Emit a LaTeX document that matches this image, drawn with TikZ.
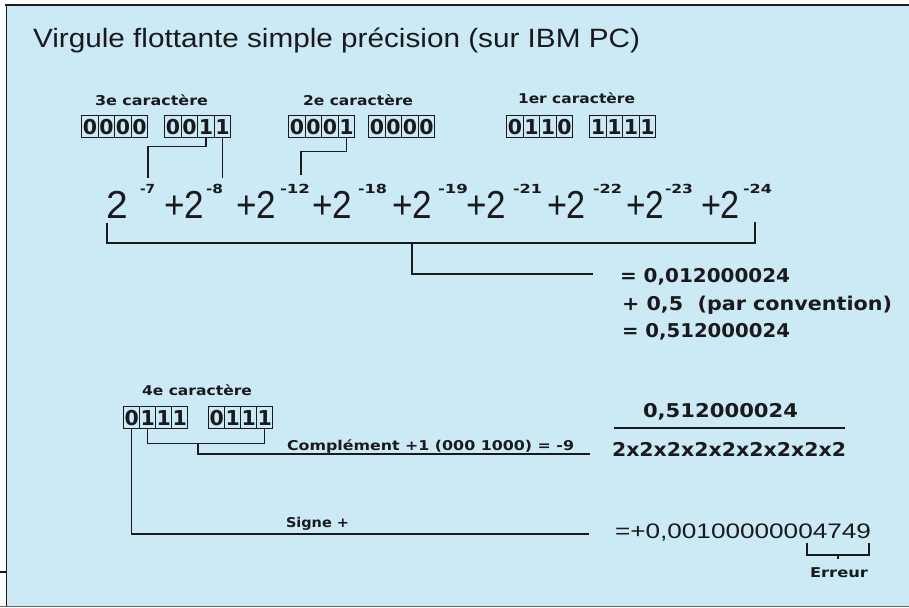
\documentclass[tikz,border=0pt]{standalone}
\usepackage{graphicx}
\usepackage{fontspec}
\setmainfont{Liberation Sans}
\newfontfamily\lblfont{DejaVu Sans}
\definecolor{bgblue}{RGB}{203,234,245}
\definecolor{linec}{RGB}{25,25,30}
\newcommand\fitw[2]{\resizebox{#1}{\height}{#2}}
\newcommand\bitgroup[5]{%
  \foreach \d [count=\i] in {#5} {
    \node[bitcell, minimum width=#4] (#1\i) at ({#2+(\i-1)*#4},#3) {\d};
  }}
\tikzset{
  txt/.style={inner sep=0pt, outer sep=0pt, anchor=base west, text=linec},
  lbl/.style={txt, font=\lblfont\bfseries\fontsize{13.5}{16}\selectfont},
  res/.style={txt, font=\lblfont\bfseries\fontsize{19}{22}\selectfont},
  expo/.style={txt, font=\lblfont\bfseries\fontsize{12.5}{15}\selectfont},
  pow/.style={txt, font=\fontsize{39}{44}\selectfont},
  bitcell/.style={draw=linec, line width=1.3pt, minimum height=22pt, inner sep=0pt,
    text=linec, font=\lblfont\bfseries\fontsize{20.5}{22}\selectfont, anchor=north west},
  wire/.style={draw=linec, line width=1.3pt},
}
\begin{document}
\begin{tikzpicture}[x=1pt,y=-1pt]
\useasboundingbox (0,0) rectangle (909,607);
% frame
\fill[white] (0,0) rectangle (909,607);
\fill[bgblue] (7,6) rectangle (909,606);
\draw[linec, line width=2pt] (5,5.5) -- (909,5.5);
\draw[linec, line width=1.4pt] (6.5,5) -- (6.5,607);
\draw[linec, line width=1.2pt] (0,572) -- (7,572);
\draw[black!60, line width=1.2pt] (0,606.4) -- (909,606.4);
% title
\node[txt, font=\fontsize{26.5}{30}\selectfont] (title) at (33,48)
  {\fitw{607pt}{Virgule flottante simple précision (sur IBM PC)}};
% labels
\node[lbl] (l3) at (95,106) {\fitw{113pt}{3e caractère}};
\node[lbl] (l2) at (303,106) {\fitw{110pt}{2e caractère}};
\node[lbl] (l1) at (518,104) {\fitw{117pt}{1er caractère}};
% bit groups row 1
\bitgroup{A}{81}{115}{16.5}{0,0,0,0}
\bitgroup{B}{164}{115}{16.5}{0,0,1,1}
\bitgroup{C}{288}{115}{16.5}{0,0,0,1}
\bitgroup{D}{368}{115}{16.5}{0,0,0,0}
\bitgroup{E}{506}{115}{16.5}{0,1,1,0}
\bitgroup{F}{589}{115}{16.5}{1,1,1,1}
% powers
\node[pow] (p1) at (106,218) {2};
\node[pow] (p2) at (164,218) {\fitw{40pt}{+2}};
\node[pow] (p3) at (236,218) {\fitw{40pt}{+2}};
\node[pow] (p4) at (312,218) {\fitw{40pt}{+2}};
\node[pow] (p5) at (392,218) {\fitw{40pt}{+2}};
\node[pow] (p6) at (466,218) {\fitw{40pt}{+2}};
\node[pow] (p7) at (547,218) {\fitw{39pt}{+2}};
\node[pow] (p8) at (626,218) {\fitw{38pt}{+2}};
\node[pow] (p9) at (701,218) {\fitw{39pt}{+2}};
\node[expo] (e7) at (140,193) {\fitw{15pt}{-7}};
\node[expo] (e8) at (206,193) {\fitw{17pt}{-8}};
\node[expo] (e12) at (280,193) {\fitw{30pt}{-12}};
\node[expo] (e18) at (358,193) {\fitw{29pt}{-18}};
\node[expo] (e19) at (438,193) {\fitw{30pt}{-19}};
\node[expo] (e21) at (513,193) {\fitw{29pt}{-21}};
\node[expo] (e22) at (593,193) {\fitw{29pt}{-22}};
\node[expo] (e23) at (665,193) {\fitw{28pt}{-23}};
\node[expo] (e24) at (743,193) {\fitw{29pt}{-24}};
% connectors row 1
\coordinate (t7) at (148,178);
\coordinate (t8) at (0,178);
\coordinate (t12) at (301,175);
\draw[wire] (B3.south) -- ++(0,8) -| (t7);
\draw[wire] (B4.south) -- (B4.south |- t8);
\draw[wire] (C4.south) -- ++(0,13) -| (t12);
% big bracket
\coordinate (k1) at (107,223);
\coordinate (k2) at (107,243);
\coordinate (k3) at (755,243);
\coordinate (k4) at (755,222);
\coordinate (km) at (412,243);
\coordinate (k5) at (593,274);
\draw[wire] (k1) -- (k2) -- (k3) -- (k4);
\draw[wire] (km) |- (k5);
% results
\node[res] (r1) at (620,282) {\fitw{170pt}{= 0,012000024}};
\node[res] (r2) at (622,310) {\fitw{270pt}{+ 0,5~~(par convention)}};
\node[res] (r3) at (622,337) {\fitw{168pt}{= 0,512000024}};
% row 2
\node[lbl] (l4) at (142,395) {\fitw{110pt}{4e caractère}};
\bitgroup{G}{123}{406}{16}{0,1,1,1}
\bitgroup{H}{208}{406}{16}{0,1,1,1}
\draw[wire] (G2.south) -- ++(0,14) -| (H4.south);
\coordinate (gm) at (198,443);
\coordinate (cl) at (590,454);
\draw[wire] (gm) |- (cl);
\node[lbl] (comp) at (287,450) {\fitw{287pt}{Complément +1 (000 1000) = -9}};
\coordinate (sl) at (589,534);
\draw[wire] (G1.south) |- (sl);
\node[lbl] (signe) at (286,527) {\fitw{63pt}{Signe +}};
% fraction
\node[res] (num) at (643,417) {\fitw{155pt}{0,512000024}};
\coordinate (f1) at (614,428);
\coordinate (f2) at (845,428);
\draw[wire] (f1) -- (f2);
\node[res] (den) at (612,456) {\fitw{234pt}{2x2x2x2x2x2x2x2x2}};
% final
\node[txt, font=\fontsize{21}{24}\selectfont] (final) at (615,538) {\fitw{256pt}{=+0,00100000004749}};
\coordinate (q1) at (807,543);
\coordinate (q2) at (869,543);
\coordinate (qm) at (838,555);
\draw[wire] (q1) |- (qm) -| (q2);
\draw[wire] (qm) -- ++(0,4);
\node[lbl] (err) at (810,577) {\fitw{58pt}{Erreur}};
\end{tikzpicture}
\end{document}
